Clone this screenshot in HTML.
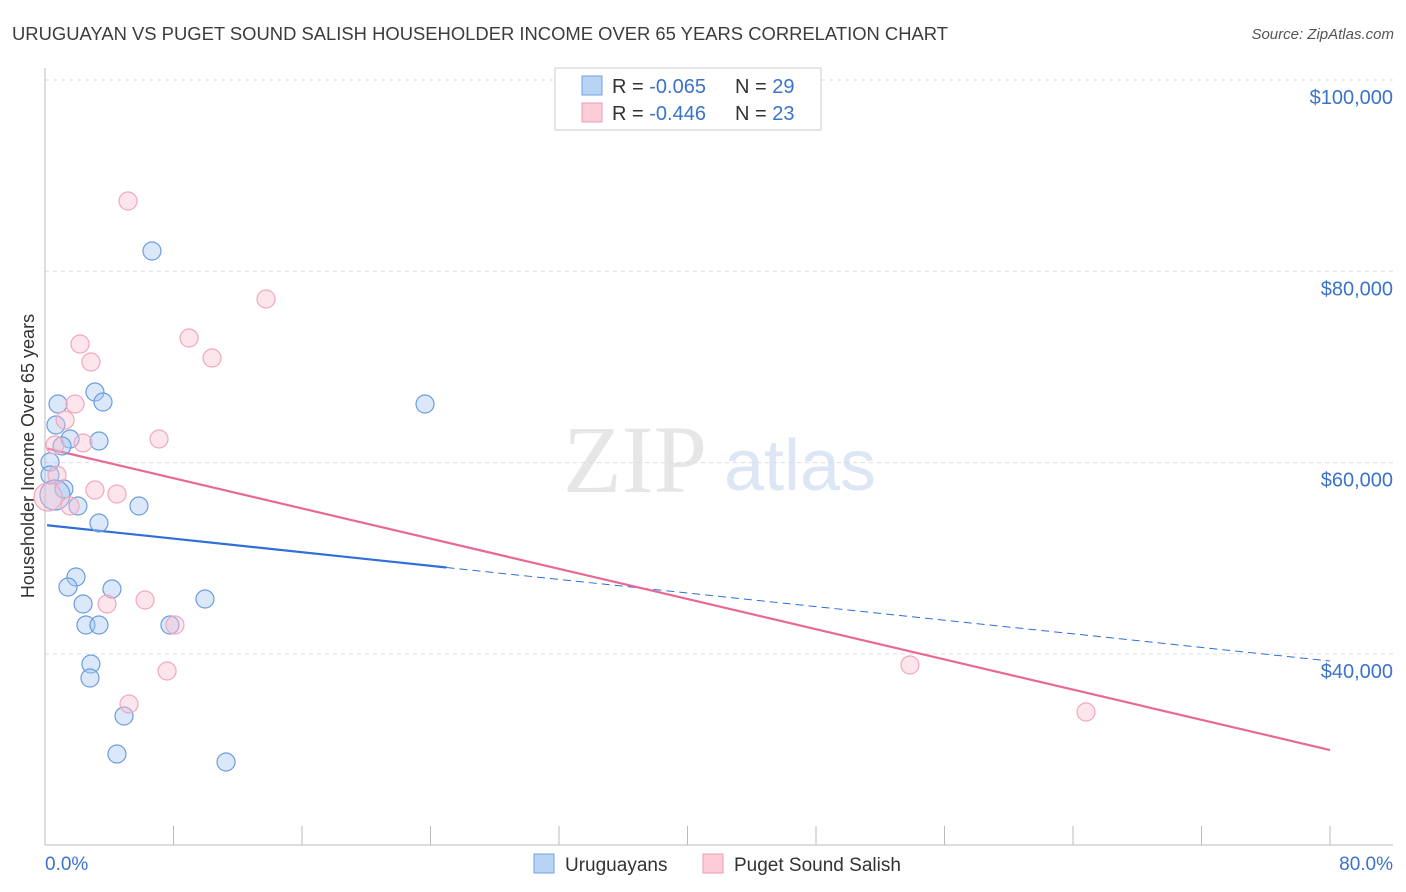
<!DOCTYPE html>
<html><head><meta charset="utf-8"><style>
body{margin:0;background:#fff;font-family:"Liberation Sans",sans-serif;}
</style></head><body>
<svg id="chart" width="1406" height="892" style="display:block">
<text x="12" y="40" font-size="18" fill="#3c3c3c" textLength="936" lengthAdjust="spacingAndGlyphs">URUGUAYAN VS PUGET SOUND SALISH HOUSEHOLDER INCOME OVER 65 YEARS CORRELATION CHART</text>
<text x="1394" y="39" font-size="15" fill="#555" text-anchor="end" font-style="italic">Source: ZipAtlas.com</text>
<text x="635" y="492" font-size="96" fill="#e6e6e6" font-family="Liberation Serif,serif" text-anchor="middle">ZIP</text>
<text x="800" y="490" font-size="72" fill="#dce6f5" text-anchor="middle">atlas</text>
<g id="grid"></g>
<line x1="45" y1="68" x2="45" y2="845" stroke="#bbb"/>
<line x1="45" y1="845" x2="1393" y2="845" stroke="#bbb"/>
<text transform="translate(34,456) rotate(-90)" font-size="18" fill="#333" text-anchor="middle">Householder Income Over 65 years</text>
<text x="45" y="870" font-size="19" fill="#3b73c9">0.0%</text>
<text x="1393" y="870" font-size="19" fill="#3b73c9" text-anchor="end">80.0%</text>
<g id="lines"></g>
<g id="points"></g>
<g>
<rect x="555" y="68" width="266" height="62" fill="#fff" stroke="#ccc"/>
<rect x="582" y="76" width="20" height="19" fill="#b9d3f5" stroke="#6fa1e3"/>
<rect x="582" y="103" width="20" height="19" fill="#fbcdd9" stroke="#f09ab2"/>
<text x="612" y="93" font-size="20" fill="#333">R = <tspan fill="#3b73c9">-0.065</tspan><tspan x="735">N = </tspan><tspan fill="#3b73c9">29</tspan></text>
<text x="612" y="120" font-size="20" fill="#333">R = <tspan fill="#3b73c9">-0.446</tspan><tspan x="735">N = </tspan><tspan fill="#3b73c9">23</tspan></text>
</g>
<g>
<rect x="534" y="854" width="20" height="19" fill="#b9d3f5" stroke="#6fa1e3"/>
<text x="565" y="871" font-size="19" fill="#333">Uruguayans</text>
<rect x="703" y="854" width="20" height="19" fill="#fbcdd9" stroke="#f09ab2"/>
<text x="734" y="871" font-size="19" fill="#333">Puget Sound Salish</text>
</g>
</svg>
<script>
const yTicks=[100000,80000,60000,40000];
const yTickLabels=["$100,000","$80,000","$60,000","$40,000"];
const xTickPcts=[0,8,16,24,32,40,48,56,64,72,80];
const blueX=[6.66,3.11,3.61,0.81,23.66,0.68,1.56,1.06,3.36,0.31,0.31,1.18,2.05,5.85,0.62,3.36,1.93,1.43,4.17,9.96,2.37,2.55,3.36,7.78,2.86,2.80,4.92,4.48,11.27];
const blueY=[82122,67380,66335,66126,66126,63930,62466,61735,62257,60062,58703,57239,55462,55462,56612,53684,48039,46993,46784,45739,45216,43020,43020,43020,38943,37479,33506,29533,28697];
const pinkX=[5.17,13.76,2.18,8.97,2.86,10.40,1.87,1.25,2.37,7.10,0.62,0.75,3.11,4.48,1.56,0.19,6.23,3.86,8.09,7.60,5.23,53.85,64.81];
const pinkY=[87349,77104,72399,73026,70517,70935,66126,64453,62048,62466,61839,58703,57134,56716,55462,56403,45634,45216,43020,38211,34761,38838,33924];
const blueTrend=[53475,39256];
const pinkTrend=[61525,29951];
const blueSolidEnd=25;
const NS="http://www.w3.org/2000/svg";
const xs=p=>45+p/80*1285;
const ys=v=>80+(100000-v)*0.0095650;
function mk(tag,attrs,parent){const e=document.createElementNS(NS,tag);for(const k in attrs)e.setAttribute(k,attrs[k]);parent.appendChild(e);return e;}
const grid=document.getElementById('grid');
yTicks.forEach((v,i)=>{
 const l=mk('line',{x1:45,x2:1393,y1:ys(v),y2:ys(v),stroke:'#ddd','stroke-dasharray':'4,4'},grid);
 
 
 const t=mk('text',{x:1393,y:ys(v)+24,'font-size':20,fill:'#3b73c9','text-anchor':'end'},grid);
 t.textContent=yTickLabels[i];
 
 
});
xTickPcts.forEach(p=>{
 const l=mk('line',{x1:xs(p),x2:xs(p),y1:826,y2:845,stroke:'#bbb'},grid);
 
 
});
const lines=document.getElementById('lines');
const by=p=>blueTrend[0]+(blueTrend[1]-blueTrend[0])*p/80;
const py=p=>pinkTrend[0]+(pinkTrend[1]-pinkTrend[0])*p/80;
let l1=mk('line',{x1:xs(0.13),y1:ys(by(0.13)),x2:xs(blueSolidEnd),y2:ys(by(blueSolidEnd)),stroke:'#2f6fd6','stroke-width':2.2},lines);


let l2=mk('line',{x1:xs(blueSolidEnd),y1:ys(by(blueSolidEnd)),x2:xs(80),y2:ys(by(80)),stroke:'#2f6fd6','stroke-width':1,'stroke-dasharray':'8,5'},lines);


let l3=mk('line',{x1:xs(0.13),y1:ys(py(0.13)),x2:xs(80),y2:ys(py(80)),stroke:'#e86a93','stroke-width':2.2},lines);


const pts=document.getElementById('points');
blueX.forEach((x,i)=>{
 const big=(i===14);
 const c=mk('circle',{cx:xs(x),cy:ys(blueY[i]),r:big?15:9,fill:'rgba(164,197,240,0.4)',stroke:'#6a9de0','stroke-width':1.2},pts);
 
 
});
pinkX.forEach((x,i)=>{
 const big=(i===15);
 const c=mk('circle',{cx:xs(x),cy:ys(pinkY[i]),r:big?14:9,fill:'rgba(249,190,207,0.4)',stroke:'#f2a7bd','stroke-width':1.2},pts);
 
 
});
</script>
</body></html>
